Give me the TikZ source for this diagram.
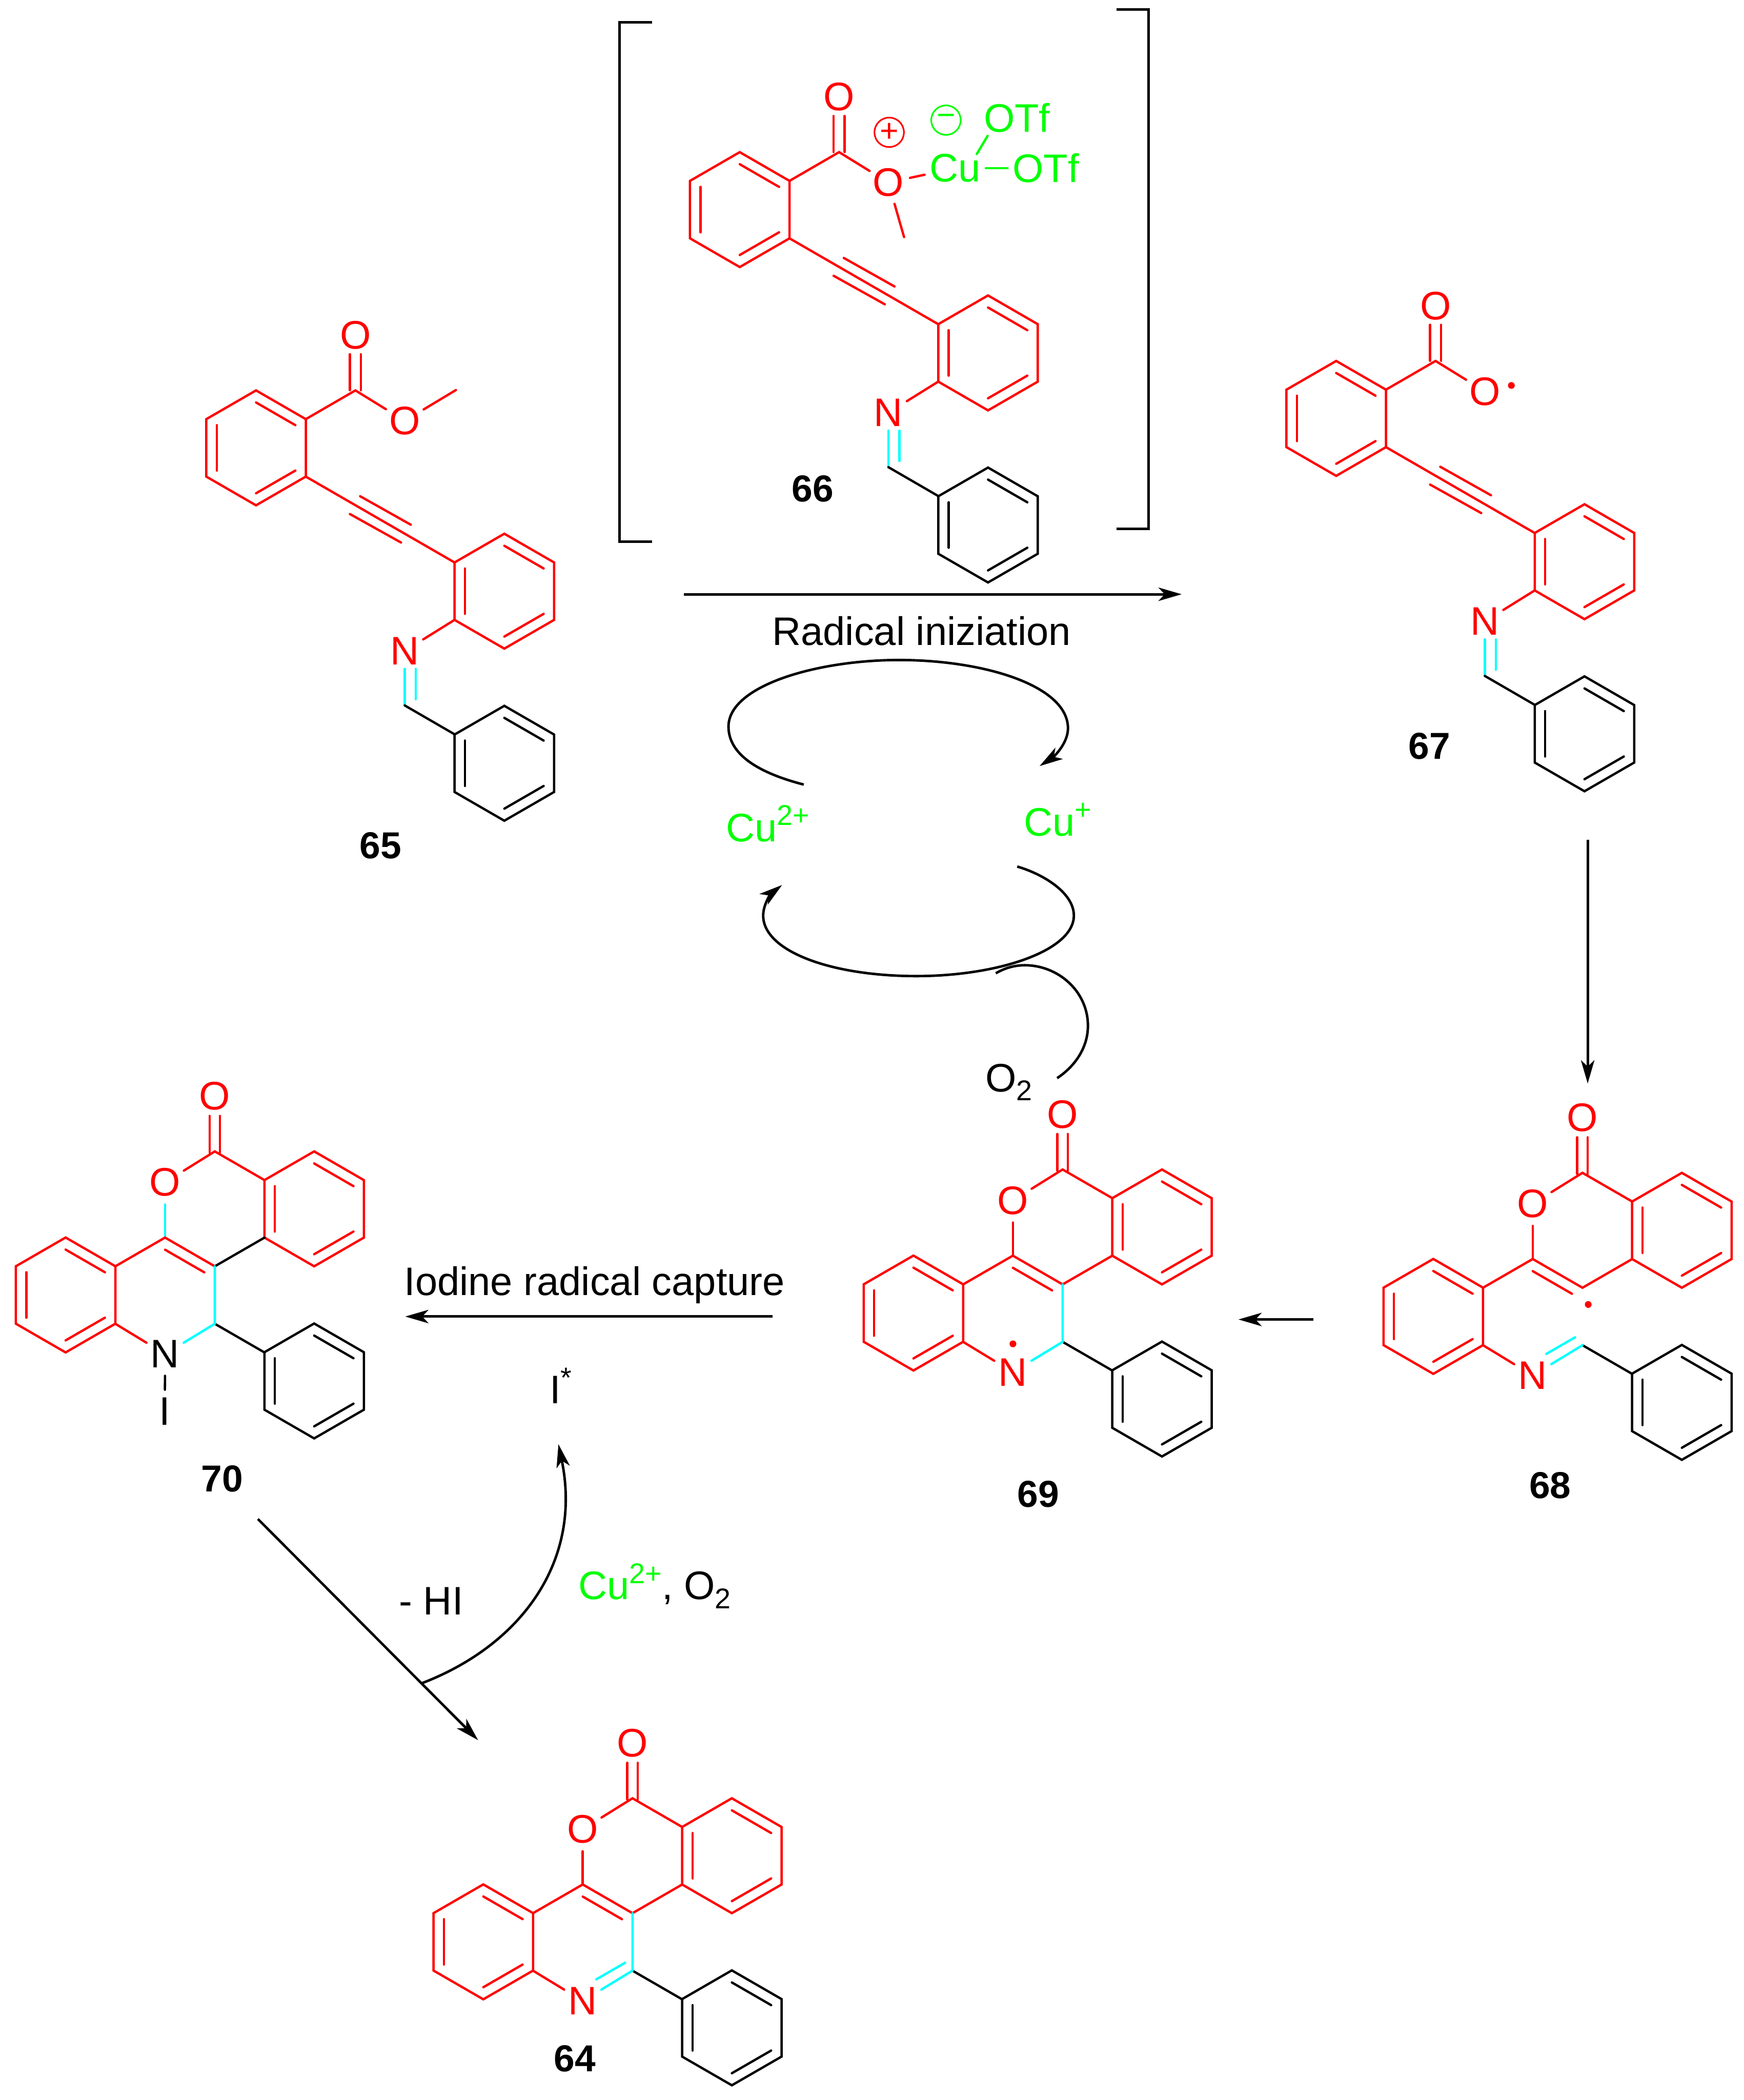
\documentclass[tikz,border=0pt]{standalone}
\usepackage{fontspec}
\setmainfont{Liberation Sans}
\usetikzlibrary{arrows.meta}

\definecolor{bondcyan}{RGB}{0,255,255}
\definecolor{cugreen}{RGB}{0,255,0}
\definecolor{atomred}{RGB}{255,0,0}

\newcommand{\suptxt}[1]{\raisebox{9pt}{\fontsize{16}{18}\selectfont #1}}
\newcommand{\subtxt}[1]{\raisebox{-5pt}{\fontsize{16}{18}\selectfont #1}}

\tikzset{every picture/.style={line width=1.4pt},
	bond/.style={line width=1.3pt,line cap=round},
	atom/.style={circle,inner sep=0pt,minimum size=23pt,font=\fontsize{22.3}{26}\selectfont},
	lbl/.style={inner sep=0pt,font=\fontsize{22.3}{26}\selectfont},
	metal/.style={inner sep=2.2pt,cugreen,font=\fontsize{22.3}{26}\selectfont},
	cmpd/.style={inner sep=0pt,font=\fontsize{21}{25}\selectfont\bfseries},
	chg/.style={circle,draw,line width=0.9pt,inner sep=0pt,minimum size=16.5pt,font=\fontsize{18}{18}\selectfont},
	raddot/.style={circle,fill,inner sep=0pt,minimum size=3.8pt},
	rxn/.style={-{Stealth[length=13pt,width=7.5pt,inset=3.5pt]}}}

% ring: x, y, colour
\newcommand{\benzring}[3]{%
	\begin{scope}[shift={(#1,#2)}]
	\draw[bond,#3] (-90:42.9) -- (-30:42.9) -- (30:42.9) -- (90:42.9) -- (150:42.9) -- (210:42.9) -- cycle;
	\foreach \a in {-90,30,150} \draw[bond,#3] (\a:33.9) -- ({\a+60}:33.9);
	\end{scope}}

% open form: name, x, y of first ring centre
\newcommand{\openform}[3]{%
	\benzring{#2}{#3}{atomred}
	\benzring{#2+185.4}{#3+107}{atomred}
	\benzring{#2+185.4}{#3+235.5}{black}
	\begin{scope}[shift={(#2,#3)}]
	\coordinate (#1r) at (37.15,-21.45);
	\coordinate (#1s) at (37.15,21.45);
	\coordinate (#1c) at (74.2,-42.9);
	\coordinate (#1t) at (148.3,85.6);
	\coordinate (#1u) at (148.3,128.4);
	\coordinate (#1d) at (111,192.3);
	\coordinate (#1e) at (148.3,213.9);
	\node[atom,atomred] (#1O) at (74.2,-84.1) {O};
	\node[atom,atomred] (#1P) at (111,-20.2) {O};
	\node[atom,atomred] (#1N) at (111,151.6) {N};
	\draw[bond,atomred] (#1r) -- (#1c) -- (#1P);
	\draw[bond,atomred] (70.1,-69.9) -- (70.1,-43) (78.3,-69.9) -- (78.3,-43);
	\draw[bond,atomred] (#1s) -- (#1t);
	\draw[bond,atomred] (77.7,36.1) -- (115.6,57.4) (70.1,49.4) -- (108.3,70.7);
	\draw[bond,atomred] (#1u) -- (#1N);
	\draw[bond,bondcyan] (111,165) -- (#1d) (119.2,165) -- (119.2,187.7);
	\draw[bond] (#1d) -- (#1e);
	\end{scope}}

% fused form: name, x, y of ring fusion carbon, colour of N, colour of O bond, colour of aryl bond
\newcommand{\fusedform}[6]{%
	\benzring{#2+74.2}{#3-42.9}{atomred}
	\benzring{#2-111.4}{#3+21.4}{atomred}
	\benzring{#2+74.2}{#3+85.6}{black}
	\begin{scope}[shift={(#2,#3)}]
	\coordinate (#1a) at (0,0);
	\coordinate (#1b) at (0,42.9);
	\coordinate (#1c) at (0,-85.8);
	\coordinate (#1d) at (37.15,-64.35);
	\coordinate (#1e) at (37.15,-21.45);
	\coordinate (#1f) at (-37.15,-21.45);
	\coordinate (#1g) at (-74.3,0);
	\coordinate (#1h) at (-74.3,42.9);
	\coordinate (#1k) at (37.15,64.35);
	\coordinate (#1i) at (-27,49.4);
	\coordinate (#1j) at (-5.5,37);
	\node[atom,atomred] (#1O) at (-37.15,-62.7) {O};
	\node[atom,atomred] (#1P) at (0,-127) {O};
	\node[atom,#4] (#1N) at (-37.15,65.5) {N};
	\draw[bond,atomred] (#1O) -- (#1c) -- (#1d);
	\draw[bond,atomred] (-3.9,-112.3) -- (-3.9,-85) (3.9,-112.3) -- (3.9,-85);
	\draw[bond,#5] (#1O) -- (#1f);
	\draw[bond,atomred] (#1g) -- (#1f) -- (#1a);
	\draw[bond,atomred] (-37.15,-12.4) -- (-7.85,4.5);
	\draw[bond,#6] (#1a) -- (#1e);
	\draw[bond,atomred] (#1h) -- (#1N);
	\draw[bond] (#1b) -- (#1k);
	\end{scope}}

\begin{document}
\begin{tikzpicture}[x=0.75pt,y=0.75pt,yscale=-1,xscale=1]
	\useasboundingbox (0,0) rectangle (1302,1568);

	% 65
	\openform{ma}{191.2}{334.4}
	\coordinate (maq) at (340.5,291.2);
	\draw[bond,atomred] (maP) -- (maq);
	\node[cmpd] (laba) at (284.1,631.5) {65};

	% 66
	\openform{mb}{552.4}{156.5}
	\node[metal] (cu) at (713.3,125.5) {Cu};
	\node[lbl,cugreen,inner sep=2.2pt] (tfa) at (759.4,88) {OTf};
	\node[lbl,cugreen,inner sep=2.2pt] (tfb) at (781,125.5) {OTf};
	\coordinate (mbq) at (675.1,177);
	\coordinate (cua) at (729.4,115);
	\coordinate (cub) at (737.5,101.4);
	\draw[bond,atomred] (mbP) -- (mbq);
	\draw[bond,atomred] (mbP) -- (cu);
	\draw[bond,cugreen] (cu) -- (tfb);
	\draw[bond,cugreen] (cua) -- (cub);
	\node[chg,atomred] (plus) at (664,98.8) {+};
	\node[chg,cugreen] (minus) at (706.4,89.7) {−};
	\node[cmpd] (labb) at (607,365) {66};
	\draw (487,16.5) -- (462.5,16.5) -- (462.5,404.4) -- (487,404.4);
	\draw (833.8,7.1) -- (857.7,7.1) -- (857.7,394.8) -- (833.8,394.8);

	% 67
	\openform{mc}{997.8}{312.4}
	\node[raddot,atomred] (dotc) at (1128.6,287.8) {};
	\node[cmpd] (labc) at (1067.4,557.1) {67};

	% 68
	\fusedform{md}{1181.7}{961.5}{atomred}{atomred}{atomred}
	\draw[bond,bondcyan] (mdb) -- (mdN) (mdi) -- (mdj);
	\node[raddot,atomred] (dotd) at (1186,974) {};
	\node[cmpd] (labd) at (1157.5,1109) {68};

	% 69
	\fusedform{me}{793.5}{959}{atomred}{atomred}{atomred}
	\draw[bond,bondcyan] (mea) -- (meb) -- (meN);
	\node[raddot,atomred] (dote) at (756.4,1003.4) {};
	\node[cmpd] (labe) at (775.4,1115.5) {69};

	% 70
	\fusedform{mf}{160.4}{945.5}{black}{bondcyan}{black}
	\draw[bond,bondcyan] (mfa) -- (mfb) -- (mfN);
	\node[atom] (mfI) at (123.1,1053.9) {I};
	\draw[bond] (mfN) -- (mfI);
	\node[cmpd] (labf) at (165.9,1104) {70};

	% 64
	\fusedform{mg}{472.3}{1428.5}{atomred}{atomred}{atomred}
	\draw[bond,bondcyan] (mga) -- (mgb) -- (mgN) (mgi) -- (mgj);
	\node[cmpd] (labg) at (429.3,1537) {64};

	% Text Node
	\node[lbl,anchor=base] (radi) at (688.2,481.9) {Radical iniziation};
	\node[lbl,cugreen,anchor=base] (cuii) at (573.3,628.2) {Cu\suptxt{2+}};
	\node[lbl,cugreen,anchor=base] (cui) at (789.9,624) {Cu\suptxt{+}};
	\node[lbl,anchor=base] (oxa) at (753.3,815) {O\subtxt{2}};
	\node[lbl,anchor=base] (capt) at (444,967.3) {Iodine radical capture};
	\node[lbl,anchor=base] (iod) at (418.8,1048) {I\suptxt{*}};
	\node[lbl,anchor=base] (hi) at (322,1205.8) {- HI};
	\node[lbl,anchor=base] (oxb) at (488.8,1194.3) {{\color{cugreen}Cu\suptxt{2+}}, O\subtxt{2}};

	% Straight Lines
	\coordinate (aa) at (510.6,443.7);
	\coordinate (ab) at (882.4,443.7);
	\coordinate (ba) at (1185.6,627);
	\coordinate (bb) at (1185.6,809);
	\coordinate (ca) at (980.9,985.2);
	\coordinate (cb) at (924.8,985.2);
	\coordinate (da) at (577,983);
	\coordinate (db) at (302.6,983);
	\coordinate (ea) at (192.6,1134.2);
	\coordinate (eb) at (357,1299.3);
	\draw[rxn] (aa) -- (ab);
	\draw[rxn] (ba) -- (bb);
	\draw[rxn] (ca) -- (cb);
	\draw[rxn] (da) -- (db);
	\draw[rxn] (ea) -- (eb);

	% Curve Lines
	\draw[rxn] (600.2,585.8) .. controls (570,578) and (544,565) .. (544,542.5) .. controls (544,512) and (610,492.8) .. (671.3,492.8) .. controls (735,492.8) and (797.5,512) .. (797.5,543.8) .. controls (797.5,555) and (787,565) .. (776.3,572);
	\draw[rxn] (759.6,647) .. controls (780,653) and (801.9,667) .. (801.9,683.6) .. controls (801.9,710) and (745,728.8) .. (684.3,728.8) .. controls (620,728.8) and (569.9,710) .. (569.9,683.6) .. controls (569.9,675) and (576,667) .. (584,660.8);
	\draw (789.4,805) .. controls (803,796) and (812.4,782) .. (812.4,765.9) .. controls (812.4,740) and (790,720.7) .. (765.3,720.7) .. controls (757,720.7) and (750,723) .. (743.6,726.7);
	\draw[rxn] (315,1256.8) .. controls (390,1228) and (435,1165) .. (417,1078.3);

\end{tikzpicture}
\end{document}
